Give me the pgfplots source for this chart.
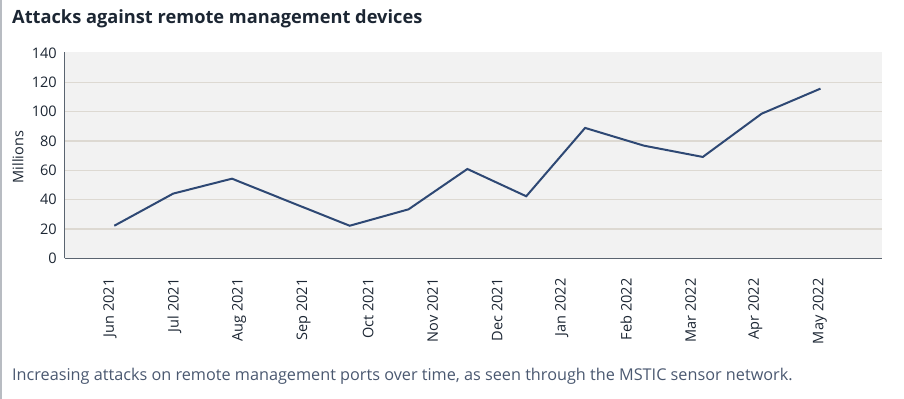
\documentclass[border=0pt]{standalone}
\usepackage{pgfplots}
\pgfplotsset{compat=1.18}
\usepackage{fontspec}
\setmainfont{Open Sans}
\definecolor{bgc}{HTML}{F2F2F2}
\definecolor{gridc}{HTML}{DDD9D2}
\definecolor{axc}{HTML}{5A6470}
\definecolor{linec}{HTML}{2E4874}
\definecolor{txt}{HTML}{1C2633}
\definecolor{capc}{HTML}{4A5870}
\definecolor{bord}{HTML}{B8BCC2}
\pgfplotstableread{
x y
0 22.2
1 44.1
2 54.3
3 38.2
4 22.2
5 33.4
6 60.9
7 42.3
8 88.9
9 76.8
10 69.1
11 98.6
12 115.7
}\attacks
\begin{document}
\begin{tikzpicture}
\useasboundingbox (0,0) rectangle (904bp,-399bp);
\draw[bord, line width=1.5bp] (1bp,0) -- (1bp,-399bp);
\node[anchor=base west, inner sep=0pt, text=txt, font=\fontsize{18.3}{22}\selectfont\bfseries] at (12bp,-23bp) {Attacks against remote management devices};
\begin{axis}[
  at={(64.5bp,-258.3bp)}, anchor=south west,
  scale only axis,
  width=817.2bp, height=206.5bp,
  xmin=-0.846, xmax=13.04,
  ymin=0, ymax=140.8,
  axis x line*=bottom, axis y line*=left,
  axis line style={axc, line width=1.5bp},
  axis background/.style={fill=bgc},
  ytick={0,20,...,140},
  minor ytick={20,40,...,120},
  yminorgrids=true,
  minor grid style={gridc, line width=1.5bp},
  major tick length=0pt, minor tick length=0pt,
  xtick={-0.073,1.024,2.120,3.217,4.313,5.410,6.506,7.603,8.699,9.796,10.892,11.989},
  xticklabels={Jun 2021,Jul 2021,Aug 2021,Sep 2021,Oct 2021,Nov 2021,Dec 2021,Jan 2022,Feb 2022,Mar 2022,Apr 2022,May 2022},
  /pgf/number format/assume math mode=true,
  tick label style={text=txt, font=\fontsize{14.6}{17}\selectfont},
  yticklabel style={inner sep=0pt, xshift=-7.5bp},
  xticklabel style={rotate=90, anchor=east, inner sep=0pt, xshift=-20bp},
  ylabel={Millions},
  ylabel style={at={(axis description cs:-0.0569,0.49)}, anchor=center, text=txt, font=\fontsize{14.6}{17}\selectfont},
  clip=false,
]
\addplot[linec, line width=2bp, no markers] table[x=x,y=y] {\attacks};
\end{axis}
\node[anchor=base west, inner sep=0pt, text=capc, font=\fontsize{16.3}{19}\selectfont] at (12bp,-380bp) {Increasing attacks on remote management ports over time, as seen through the MSTIC sensor network.};
\end{tikzpicture}
\end{document}
